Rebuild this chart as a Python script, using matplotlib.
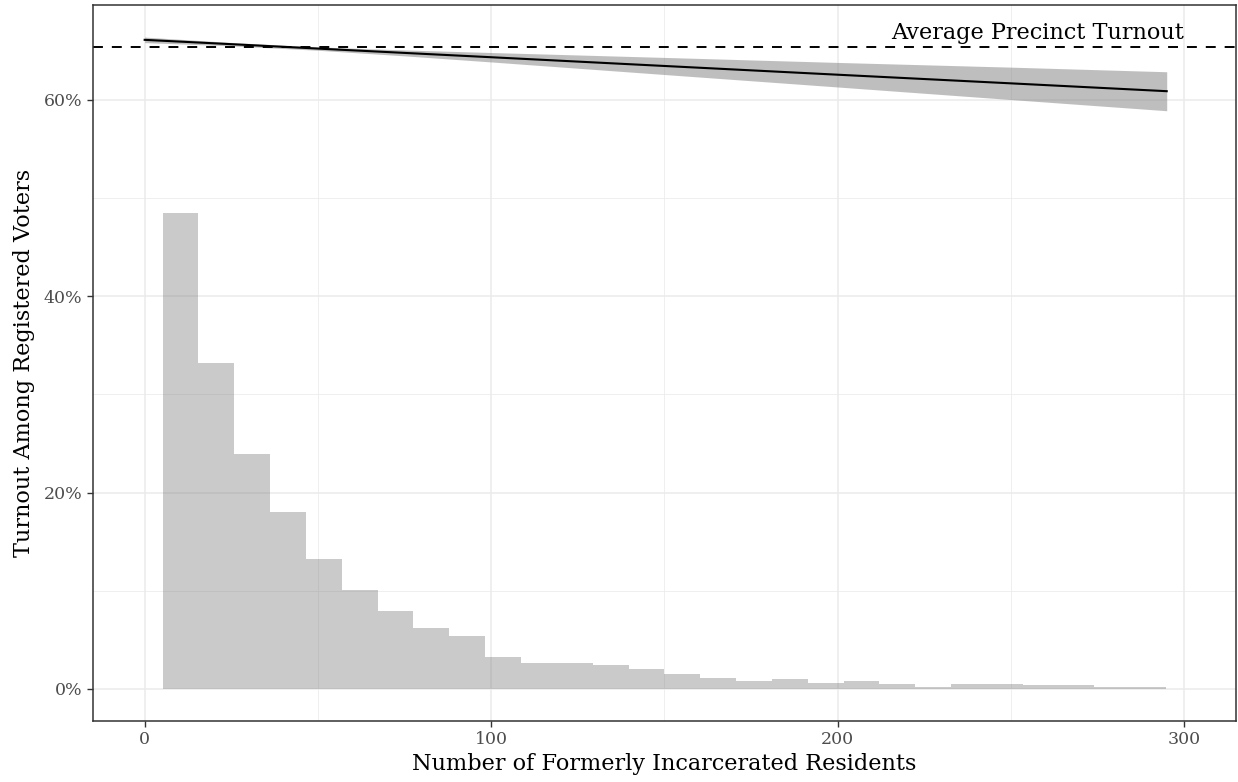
import matplotlib
matplotlib.use("Agg")
import matplotlib.pyplot as plt
from matplotlib.ticker import FixedLocator

plt.rcParams['font.family'] = ['DejaVu Serif']

# histogram: 30 bins over 0..300 (ggplot default), share of precincts in %
bin_width = 300 / 29
bin_centers = [k * bin_width for k in range(30)]
bin_shares = [0, 48.5, 33.2, 23.9, 18.0, 13.2, 10.1, 7.9, 6.2, 5.4,
              3.3, 2.6, 2.65, 2.45, 2.04, 1.53, 1.12, 0.82, 1.02, 0.61,
              0.82, 0.47, 0.2, 0.54, 0.54, 0.4, 0.4, 0.2, 0.2, 0]

# linear fit of turnout with its confidence band
fit_x = [0, 25, 50, 75, 100, 150, 200, 250, 295]
fit_y = [66.12, 65.68, 65.23, 64.79, 64.35, 63.46, 62.57, 61.69, 60.89]
fit_lo = [65.84, 65.51, 65.06, 64.49, 63.87, 62.59, 61.32, 60.04, 58.90]
fit_hi = [66.40, 65.85, 65.40, 65.09, 64.83, 64.33, 63.82, 63.34, 62.87]

avg_turnout = 65.35

x_ticks = [0, 100, 200, 300]
y_ticks = [0, 20, 40, 60]
y_labels = ['0%', '20%', '40%', '60%']

fig = plt.figure(figsize=(12.38, 7.82), dpi=100)
ax = fig.add_axes([92.7 / 1238, 61 / 782, (1236 - 92.7) / 1238, (777.3 - 61) / 782])

ax.bar(bin_centers, bin_shares, width=bin_width, color='#7f7f7f', alpha=0.41, linewidth=0)
ax.fill_between(fit_x, fit_lo, fit_hi, color='#7f7f7f', alpha=0.5, linewidth=0)
ax.plot(fit_x, fit_y, color='black', linewidth=1.5)
ax.axhline(avg_turnout, color='black', linewidth=1.4, linestyle=(0, (5.1, 4.6)))
ax.text(300, 66.2, 'Average Precinct Turnout', ha='right', va='baseline', fontsize=16.1)

ax.set_xlim(-15, 315)
ax.set_ylim(-3.26, 69.7)

ax.set_xticks(x_ticks)
ax.set_yticks(y_ticks)
ax.set_yticklabels(y_labels)
ax.xaxis.set_minor_locator(FixedLocator([50, 150, 250]))
ax.yaxis.set_minor_locator(FixedLocator([10, 30, 50]))
ax.set_axisbelow(True)
ax.grid(which='major', color='#ebebeb', linewidth=1.1)
ax.grid(which='minor', color='#ebebeb', linewidth=0.55)
ax.tick_params(which='major', length=4, width=1, color='#333333', labelcolor='#4d4d4d', labelsize=12.5)
ax.tick_params(which='minor', length=0)
for s in ax.spines.values():
    s.set_color('#333333')
    s.set_linewidth(1.1)

ax.set_xlabel('Number of Formerly Incarcerated Residents', fontsize=16.1, labelpad=3)
ax.set_ylabel('Turnout Among Registered Voters', fontsize=16.1, labelpad=6)

fig.savefig('out.png', dpi=100)
